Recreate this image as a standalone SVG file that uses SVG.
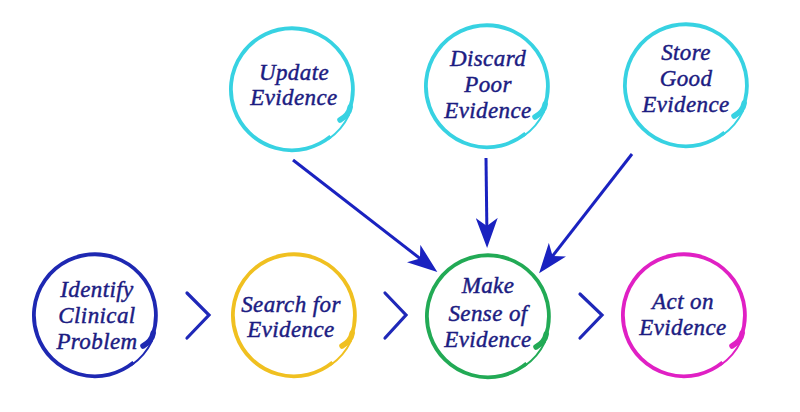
<svg xmlns="http://www.w3.org/2000/svg" xmlns:xlink="http://www.w3.org/1999/xlink" width="800" height="412" viewBox="0 0 800 412">
<style>
  .lbl { font-family: "Liberation Serif", "DejaVu Serif", serif; font-style: italic; font-size: 23px; letter-spacing: 0.4px; fill: #1c1c82; stroke: #1c1c82; stroke-width: 0.45; text-anchor: middle; }
  .conn { stroke: #1a22c0; stroke-width: 3; fill: none; }
  .chev { stroke: #1f28b8; stroke-width: 3.2; fill: none; stroke-linecap: round; stroke-linejoin: miter; }
  .ring-main { fill: none; stroke: currentColor; stroke-width: 3.8; }
  .ring-tip { fill: none; stroke: currentColor; stroke-width: 5.5; stroke-linecap: round; }
  .ring-tail { fill: none; stroke: currentColor; stroke-width: 1.8; stroke-linecap: round; }
</style>
<defs>
  <marker id="arrow" viewBox="0 0 30 22" refX="22" refY="11" markerWidth="30" markerHeight="22" markerUnits="userSpaceOnUse" orient="auto">
    <path d="M30,11 L0,0 L8,11 L0,22 Z" fill="#1a22c0"/>
  </marker>
  <g id="ring">
    <path class="ring-main" d="M38.6,47.4 A61,61 0 1 1 57.3,20.9"/>
    <path class="ring-tip" d="M58.2,18 Q57,26 48,31"/>
    <path class="ring-tail" d="M57,26 A62,62 0 0 1 36.4,50.2"/>
  </g>
</defs>
<rect width="800" height="412" fill="#ffffff"/>

<g id="connectors">
  <line class="conn" x1="293" y1="160" x2="431" y2="267" marker-end="url(#arrow)"/>
  <line class="conn" x1="486" y1="158" x2="487" y2="240" marker-end="url(#arrow)"/>
  <line class="conn" x1="632" y1="154" x2="544" y2="267" marker-end="url(#arrow)"/>
  <polyline class="chev" points="187,293 209,315 187,338"/>
  <polyline class="chev" points="385,293 406,315 385,338"/>
  <polyline class="chev" points="580,294 602,315 580,338"/>
</g>

<g id="update-evidence">
  <use xlink:href="#ring" transform="translate(292,89)" style="color:#37d2e2"/>
  <text class="lbl" x="294" y="80">Update</text>
  <text class="lbl" x="294" y="105">Evidence</text>
</g>
<g id="discard-poor-evidence">
  <use xlink:href="#ring" transform="translate(487,86)" style="color:#37d2e2"/>
  <text class="lbl" x="488" y="66">Discard</text>
  <text class="lbl" x="488" y="92">Poor</text>
  <text class="lbl" x="488" y="118">Evidence</text>
</g>
<g id="store-good-evidence">
  <use xlink:href="#ring" transform="translate(686,85)" style="color:#37d2e2"/>
  <text class="lbl" x="686" y="60">Store</text>
  <text class="lbl" x="686" y="86">Good</text>
  <text class="lbl" x="686" y="112">Evidence</text>
</g>
<g id="identify-clinical-problem">
  <use xlink:href="#ring" transform="translate(95,315)" style="color:#1e28b2"/>
  <text class="lbl" x="97" y="297">Identify</text>
  <text class="lbl" x="97" y="323">Clinical</text>
  <text class="lbl" x="97" y="349">Problem</text>
</g>
<g id="search-for-evidence">
  <use xlink:href="#ring" transform="translate(294,315)" style="color:#f0c020"/>
  <text class="lbl" x="291" y="312">Search for</text>
  <text class="lbl" x="291" y="337">Evidence</text>
</g>
<g id="make-sense-of-evidence">
  <use xlink:href="#ring" transform="translate(488,316)" style="color:#22aa55"/>
  <text class="lbl" x="488" y="293">Make</text>
  <text class="lbl" x="488" y="321">Sense of</text>
  <text class="lbl" x="488" y="347">Evidence</text>
</g>
<g id="act-on-evidence">
  <use xlink:href="#ring" transform="translate(684,315)" style="color:#e020c4"/>
  <text class="lbl" x="683" y="309">Act on</text>
  <text class="lbl" x="683" y="335">Evidence</text>
</g>
</svg>
